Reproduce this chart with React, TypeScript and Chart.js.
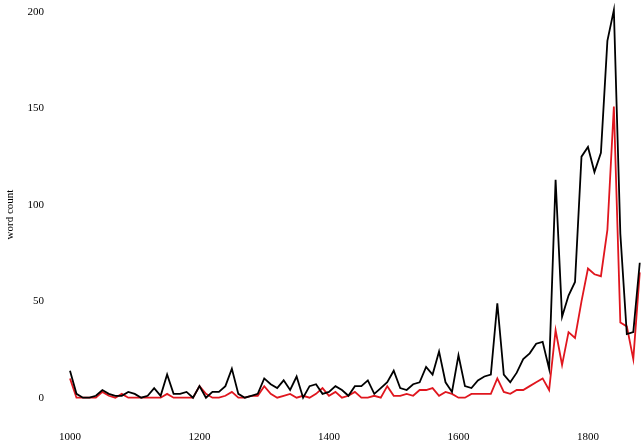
import React, { useEffect, useRef } from "react";
import { Chart, registerables } from "chart.js";
Chart.register(...registerables);

const years: number[] = Array.from({ length: 89 }, (_, i) => 1000 + i * 10);
const totalWords = [
  14,2,0,0,1,4,2,1,1,3,
  2,0,1,5,1,12,2,2,3,0,
  6,0,3,3,6,15,2,0,1,2,
  10,7,5,9,4,11,0,6,7,2,
  3,6,4,1,6,6,9,2,5,8,
  14,5,4,7,8,16,12,24,8,3,
  22,6,5,9,11,12,49,12,8,13,
  20,23,28,29,15,113,42,53,60,125,
  130,117,127,185,201,85,33,34,70,
];
const subsetWords = [
  10,0,0,0,0,3,1,0,2,0,
  0,0,0,0,0,2,0,0,0,0,
  6,2,0,0,1,3,0,0,1,1,
  6,2,0,1,2,0,1,0,2,5,
  1,3,0,1,3,0,0,1,0,6,
  1,1,2,1,4,4,5,1,3,2,
  0,0,2,2,2,2,10,3,2,4,
  4,6,8,10,4,35,17,34,31,50,
  67,64,63,87,151,39,37,20,65,
];
const xTicks = [1000, 1200, 1400, 1600, 1800];
const yTicks = [0, 50, 100, 150, 200];

export default function App() {
  const ref = useRef<HTMLCanvasElement>(null);
  useEffect(() => {
    document.body.style.margin = "0";
    const font = { family: "'Liberation Serif', 'DejaVu Serif', serif", size: 11 };
    const chart = new Chart(ref.current!, {
      type: "line",
      data: {
        datasets: [
          { data: years.map((y, i) => ({ x: y, y: totalWords[i] })), borderColor: "#000", borderWidth: 1.8, pointRadius: 0, clip: false as any },
          { data: years.map((y, i) => ({ x: y, y: subsetWords[i] })), borderColor: "#e0161e", borderWidth: 1.8, pointRadius: 0, clip: false as any },
        ],
      },
      options: {
        animation: false,
        responsive: false,
        layout: { padding: { top: 12, left: 0, right: 0, bottom: 0 }, autoPadding: false } as any,
        plugins: { legend: { display: false }, tooltip: { enabled: false } },
        scales: {
          x: {
            type: "linear", min: 1000, max: 1885,
            afterBuildTicks: (s: any) => { s.ticks = xTicks.map((v) => ({ value: v })); },
            afterFit: (s: any) => { s.height = 27; s.paddingLeft = 0; s.paddingRight = 0; },
            grid: { display: false, tickLength: 6 },
            border: { display: false },
            ticks: { font, color: "#000", maxRotation: 0, padding: 8, callback: (v: any) => String(v) },
          },
          y: {
            min: -10, max: 200,
            afterBuildTicks: (s: any) => { s.ticks = yTicks.map((v) => ({ value: v })); },
            afterFit: (s: any) => { s.width = 70; s.paddingTop = 0; s.paddingBottom = 0; },
            grid: { display: false, tickLength: 6 },
            border: { display: false },
            ticks: { font, color: "#000", padding: 20 },
            title: { display: true, text: "word count", font, color: "#000" },
          },
        },
      },
    });
    return () => chart.destroy();
  }, []);
  return <canvas ref={ref} width={643} height={444} style={{ display: "block" }} />;
}
